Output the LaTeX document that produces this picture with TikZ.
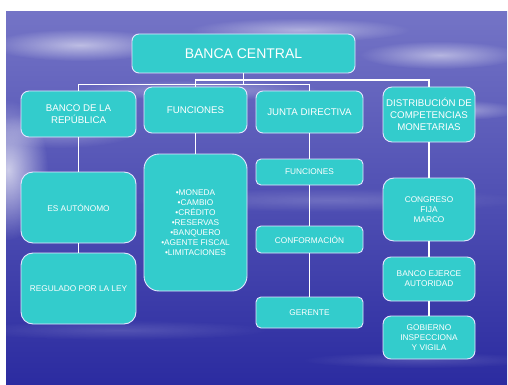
\documentclass[tikz,border=0pt]{standalone}
\usepackage{fontspec}
\setmainfont{Liberation Sans}
\usetikzlibrary{fadings}
\tikzfading[name=softblob, inner color=transparent!0, outer color=transparent!100]
\definecolor{boxteal}{HTML}{33CCCC}
\definecolor{skytop}{HTML}{7474C6}
\definecolor{skymid}{HTML}{4444AE}
\definecolor{seabot}{HTML}{2B2BA0}
\tikzset{
  orgbox/.style={rectangle, draw=white!90!blue, line width=0.9pt, fill=boxteal,
    text=white, align=center, inner sep=0pt, anchor=center},
  lvlone/.style={orgbox, font=\fontsize{9.7}{12}\selectfont},
  lvltwo/.style={orgbox, font=\fontsize{8.3}{10}\selectfont},
  link/.style={draw=white, line width=1.1pt},
  cloud/.style={fill=white, path fading=softblob}
}
\begin{document}
\begin{tikzpicture}[x=1pt,y=-1pt]
\useasboundingbox (0,0) rectangle (508,385);
% background
\shade[top color=skytop, middle color=skymid, bottom color=seabot] (6,12) rectangle (507,385);
\begin{scope}
\clip (6,12) rectangle (507,385);
\fill[cloud, fill opacity=0.55] (80,45) ellipse (90 and 16);
\fill[cloud, fill opacity=0.45] (300,30) ellipse (110 and 12);
\fill[cloud, fill opacity=0.5] (440,55) ellipse (80 and 14);
\fill[cloud, fill opacity=0.35] (200,90) ellipse (120 and 10);
\fill[cloud, fill opacity=0.4] (460,110) ellipse (60 and 10);
\fill[cloud, fill opacity=0.7] (8,170) ellipse (40 and 70);
\fill[cloud, fill opacity=0.3] (60,130) ellipse (80 and 18);
\fill[cloud, fill opacity=0.18] (330,200) ellipse (200 and 12);
\fill[cloud, fill opacity=0.15] (120,330) ellipse (150 and 10);
\fill[cloud, fill opacity=0.15] (420,360) ellipse (120 and 8);
\end{scope}
% nodes
\node[orgbox, font=\fontsize{14}{17}\selectfont, minimum width=223pt, minimum height=39pt, rounded corners=7pt] (bc) at (243.5,53.5) {BANCA CENTRAL};
\node[lvlone, minimum width=115pt, minimum height=46pt, rounded corners=8pt] (brep) at (78.5,114) {BANCO DE LA\\REPÚBLICA};
\node[lvlone, minimum width=103pt, minimum height=46pt, rounded corners=8pt] (fun) at (195.5,110) {FUNCIONES};
\node[lvlone, minimum width=107pt, minimum height=42pt, rounded corners=7pt] (junta) at (309.5,112) {JUNTA DIRECTIVA};
\node[lvlone, minimum width=92pt, minimum height=55pt, rounded corners=9pt] (dist) at (429,114.5) {DISTRIBUCIÓN DE\\COMPETENCIAS\\MONETARIAS};
\node[lvltwo, minimum width=115pt, minimum height=71pt, rounded corners=12pt] (auto) at (78.5,207.5) {ES AUTÓNOMO};
\node[lvltwo, minimum width=115pt, minimum height=71pt, rounded corners=12pt] (reg) at (78.5,288.5) {REGULADO POR LA LEY};
\node[lvltwo, minimum width=103pt, minimum height=137pt, rounded corners=15pt] (flist) at (195.5,222.5) {•MONEDA\\•CAMBIO\\•CRÉDITO\\•RESERVAS\\•BANQUERO\\•AGENTE FISCAL\\•LIMITACIONES};
\node[lvltwo, minimum width=107pt, minimum height=26pt, rounded corners=5pt] (jf) at (309.5,172) {FUNCIONES};
\node[lvltwo, minimum width=107pt, minimum height=27pt, rounded corners=5pt] (jc) at (309.5,239.5) {CONFORMACIÓN};
\node[lvltwo, minimum width=107pt, minimum height=31pt, rounded corners=5pt] (jg) at (309.5,312.5) {GERENTE};
\node[lvltwo, minimum width=92pt, minimum height=63pt, rounded corners=11pt] (cong) at (429,209.5) {CONGRESO\\FIJA\\MARCO};
\node[lvltwo, minimum width=92pt, minimum height=44pt, rounded corners=8pt] (bea) at (429,279) {BANCO EJERCE\\AUTORIDAD};
\node[lvltwo, minimum width=92pt, minimum height=43pt, rounded corners=8pt] (gob) at (429,337.5) {GOBIERNO\\INSPECCIONA\\Y VIGILA};
% connectors
\coordinate (barA) at (0,80);
\coordinate (barB) at (0,84.5);
\draw[link] (bc.south) -- (bc.south |- barB);
\draw[link] (fun.north) -- (fun.north |- barA) -- (dist.north |- barA) -- (dist.north);
\draw[link] (brep.north) -- (brep.north |- barB) -- (junta.north |- barB) -- (junta.north);
\draw[link] (brep.south) -- (auto.north);
\draw[link] (auto.south) -- (reg.north);
\draw[link] (fun.south) -- (flist.north);
\draw[link] (junta.south) -- (jf.north);
\draw[link] (jf.south) -- (jc.north);
\draw[link] (jc.south) -- (jg.north);
\draw[link] (dist.south) -- (cong.north);
\draw[link] (cong.south) -- (bea.north);
\draw[link] (bea.south) -- (gob.north);
\end{tikzpicture}
\end{document}
